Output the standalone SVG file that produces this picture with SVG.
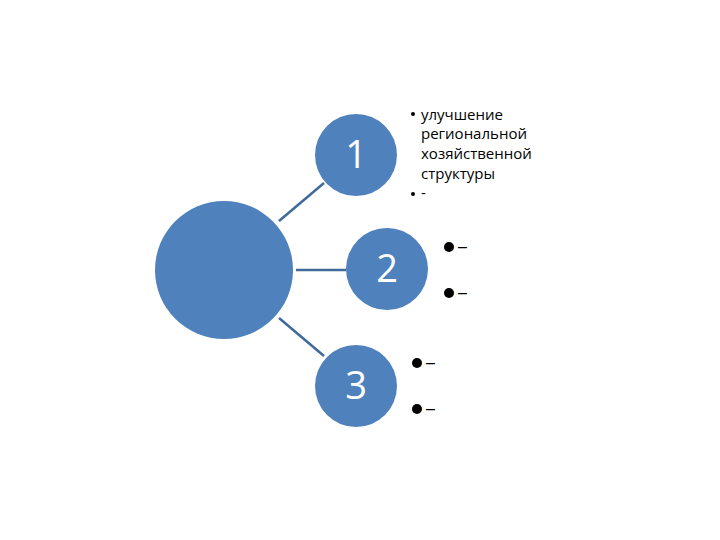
<svg xmlns="http://www.w3.org/2000/svg" width="720" height="540" viewBox="0 0 720 540">
<style>
.c{fill:#4f81bd}
.n{font-family:"Open Sans","Liberation Sans",sans-serif;font-size:38px;fill:#fff;text-anchor:middle}
.t{font-family:"Open Sans","Liberation Sans",sans-serif;font-size:15px;fill:#000}
.d{font-family:"Liberation Sans",sans-serif;font-size:16px;fill:#000}
</style>
<rect width="720" height="540" fill="#fff"/>
<g id="connectors" stroke="#3f6a9a" stroke-width="2.5">
<line x1="279" y1="221" x2="324" y2="183"/>
<line x1="296" y1="270" x2="346" y2="270"/>
<line x1="279" y1="318" x2="324" y2="356"/>
</g>
<g id="center"><circle class="c" cx="224" cy="270" r="69"/></g>
<g id="n1"><circle class="c" cx="356" cy="155" r="41"/><text class="n" x="356" y="168">1</text></g>
<g id="n2"><circle class="c" cx="387" cy="269" r="41"/><text class="n" x="387" y="282">2</text></g>
<g id="n3"><circle class="c" cx="356" cy="386" r="41"/><text class="n" x="356" y="399">3</text></g>
<g id="text1">
<circle cx="413" cy="114" r="2"/>
<text class="t" x="421" y="120">улучшение</text>
<text class="t" x="421" y="139">региональной</text>
<text class="t" x="421" y="159">хозяйственной</text>
<text class="t" x="421" y="179">структуры</text>
<circle cx="413" cy="194" r="2"/>
<text class="t" x="421" y="198">-</text>
</g>
<g id="text2">
<circle cx="449" cy="247" r="5"/><text class="d" x="458" y="252">–</text>
<circle cx="449" cy="293" r="5"/><text class="d" x="458" y="298">–</text>
</g>
<g id="text3">
<circle cx="417" cy="363" r="5"/><text class="d" x="426" y="368">–</text>
<circle cx="417" cy="409" r="5"/><text class="d" x="426" y="414">–</text>
</g>
</svg>
